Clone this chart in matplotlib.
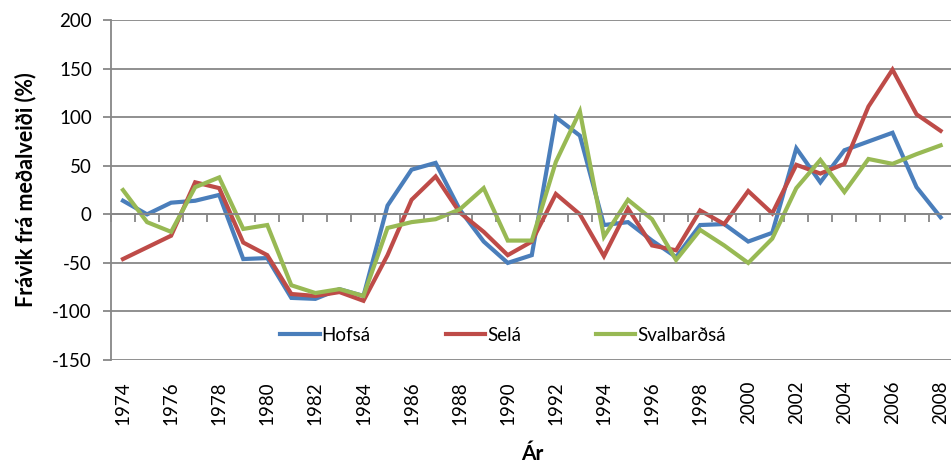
import numpy as np
import matplotlib
matplotlib.use("Agg")
import matplotlib.pyplot as plt

# ---------------------------------------------------------------
# Data: deviation from mean catch (%) for three rivers, 1974-2008
# ---------------------------------------------------------------
years = list(range(1974, 2009))

hofsa = [14, 0, 12, 14, 20, -46, -45, -86, -87, -77,
         -84, 9, 46, 53, 5, -28, -50, -42, 100, 81,
         -11, -8, -27, -44, -11, -10, -28, -19, 68, 33,
         66, 75, 84, 28, -3]

sela = [-46, -34, -22, 33, 27, -29, -42, -82, -84, -80,
        -89, -42, 15, 39, 2, -18, -42, -28, 21, 0,
        -43, 6, -32, -37, 4, -10, 24, 1, 51, 42,
        52, 111, 149, 103, 86]

svalbardsa = [25, -8, -18, 28, 38, -15, -11, -73, -81, -77,
              -84, -14, -8, -5, 5, 27, -27, -27, 54, 106,
              -23, 15, -5, -47, -16, -32, -50, -25, 27, 56,
              23, 57, 52, 62, 71]

series_names = ["Hofsá", "Selá", "Svalbarðsá"]
series_colors = ["#4A7EBB", "#BE4B48", "#98B954"]
label_years = years[::2]

plt.rcParams['font.family'] = ['Lato', 'DejaVu Sans']
plt.rcParams['axes.unicode_minus'] = False
grid_color = "#878787"


def main():
    fig = plt.figure(figsize=(9.51, 4.67), dpi=100)
    ax = fig.add_axes([0.1167, 0.229, 0.885, 0.728])

    for vals, name, col in zip([hofsa, sela, svalbardsa], series_names, series_colors):
        ax.plot(years, vals, color=col, lw=3, label=name, solid_joinstyle='miter')

    ax.set_xlim(years[0] - 0.5, years[-1] + 0.5)
    ax.set_ylim(-150, 200)
    ax.set_yticks(np.arange(-150, 201, 50))
    ax.grid(axis='y', color=grid_color, lw=1.3)
    ax.set_axisbelow(True)

    # category axis crosses at zero, tick marks between categories
    for s in ['top', 'right']:
        ax.spines[s].set_visible(False)
    ax.spines['bottom'].set_position(('data', 0))
    ax.spines['bottom'].set_color(grid_color)
    ax.spines['bottom'].set_linewidth(1.3)
    ax.spines['left'].set_color(grid_color)
    ax.spines['left'].set_linewidth(1.3)
    ax.set_xticks(np.arange(years[0] - 0.5, years[-1] + 1))
    ax.tick_params(axis='x', direction='out', length=5.5, width=1.3,
                   color=grid_color, labelbottom=False)
    ax.tick_params(axis='y', direction='out', length=5.8, width=1.3,
                   color=grid_color, labelsize=13.5, pad=8)

    # year labels sit at the bottom of the plot area
    sec = ax.secondary_xaxis(0, functions=(lambda x: x, lambda x: x))
    sec.set_xticks(label_years)
    sec.set_xticklabels([str(y) for y in label_years], rotation=90)
    sec.tick_params(length=0, labelsize=13.5, pad=15)
    sec.spines['bottom'].set_visible(False)
    sec.set_xlabel("Ár", fontsize=15, fontweight='bold', labelpad=14)

    ax.set_ylabel("Frávik frá meðalveiði (%)", fontsize=15.5, fontweight='bold', labelpad=11)

    ax.legend(loc='center', bbox_to_anchor=(0.466, 0.0735), ncol=3, frameon=False,
              fontsize=13.5, handlelength=2.1, handletextpad=0.1, columnspacing=4.0,
              borderaxespad=0)

    fig.savefig("out.png", dpi=100)
    plt.close(fig)


if __name__ == "__main__":
    main()
